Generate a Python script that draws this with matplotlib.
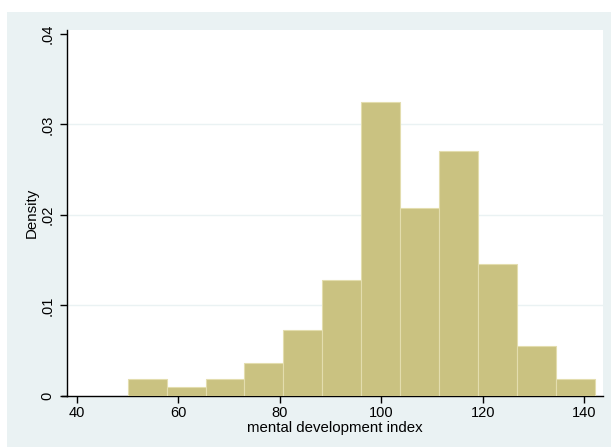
import matplotlib
matplotlib.use("Agg")
import matplotlib.pyplot as plt
from matplotlib.patches import Rectangle
from matplotlib.lines import Line2D

plt.rcParams['font.family'] = ['Liberation Sans', 'DejaVu Sans']

bin_start = 50.0
bin_width = 92.0 / 12
densities = [0.0019, 0.00102, 0.0019, 0.0037, 0.0073, 0.0128,
             0.0325, 0.0208, 0.0271, 0.01455, 0.00555, 0.0019]
x_ticks = [40, 60, 80, 100, 120, 140]
y_ticks = [0, 0.01, 0.02, 0.03, 0.04]
y_tick_labels = ['0', '.01', '.02', '.03', '.04']
x_label = 'mental development index'
y_label = 'Density'

W, H = 611, 447
fig = plt.figure(figsize=(W / 100, H / 100), dpi=100)
fig.patch.set_facecolor('white')
bg = '#EAF2F3'
fig.add_artist(Rectangle((7 / W, 0), 1 - 7 / W, 1 - 12 / H,
                         transform=fig.transFigure, facecolor=bg,
                         edgecolor='none', zorder=-10))

ax = fig.add_axes([67 / W, 1 - 396 / H, (603 - 67) / W, (396 - 30) / H])
ax.set_zorder(5)
ax.set_facecolor('white')

lefts = [bin_start + i * bin_width for i in range(len(densities))]
ax.bar(lefts, densities, width=bin_width, align='edge',
       color='#CAC281', edgecolor='#E3DDAE', linewidth=0.8, zorder=3)

ax.set_xlim(38.03, 143.65)
ax.set_ylim(0, 0.04044)

for v in [0.01, 0.02, 0.03]:
    ax.axhline(v, color=bg, linewidth=1.0, zorder=1)

ax.set_xticks(x_ticks)
ax.set_xticklabels([str(t) for t in x_ticks])
ax.set_yticks(y_ticks)
ax.set_yticklabels(y_tick_labels, rotation=90, va='center')

for s in ['top', 'right']:
    ax.spines[s].set_visible(False)
for s in ['left', 'bottom']:
    ax.spines[s].set_color('black')
    ax.spines[s].set_linewidth(1.0)

# extend x axis line slightly to the left (Stata style)
fig.add_artist(Line2D([62 / W, 67 / W], [1 - 396 / H, 1 - 396 / H],
                      transform=fig.transFigure, color='black',
                      linewidth=1.0, zorder=10))

ax.tick_params(axis='both', direction='out', length=5, width=1,
               labelsize=10.5, colors='black')
ax.tick_params(axis='y', pad=4)
ax.tick_params(axis='x', pad=2)

ax.set_xlabel(x_label, fontsize=10.8, labelpad=1)
ax.set_ylabel(y_label, fontsize=10.8, labelpad=1)

fig.savefig('out.png', dpi=100, facecolor=fig.get_facecolor())
